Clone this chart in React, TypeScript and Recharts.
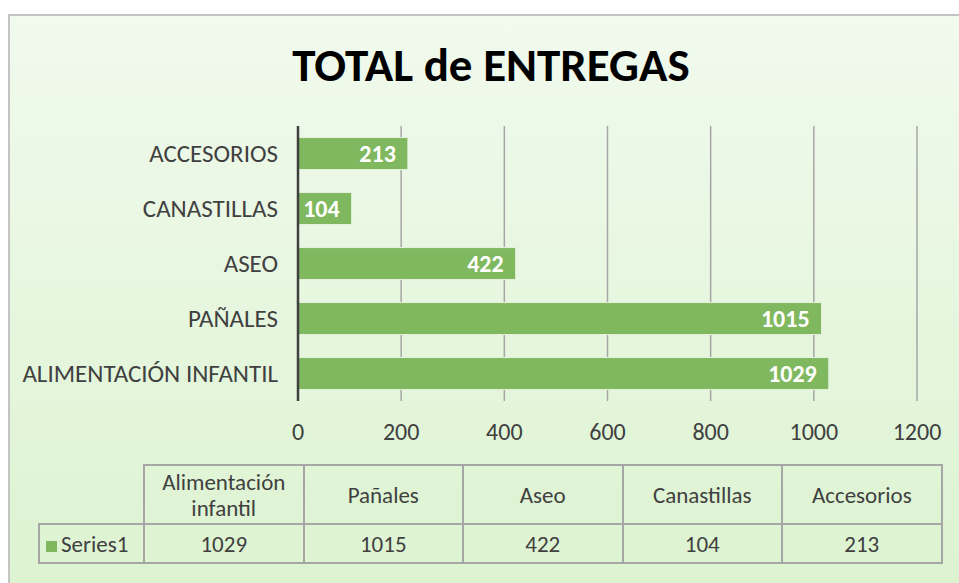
import { BarChart, Bar, XAxis, YAxis, CartesianGrid, LabelList } from 'recharts';

const categories = ['ALIMENTACIÓN INFANTIL', 'PAÑALES', 'ASEO', 'CANASTILLAS', 'ACCESORIOS'];
const tableLabels = ['Alimentación infantil', 'Pañales', 'Aseo', 'Canastillas', 'Accesorios'];
const values = [1029, 1015, 422, 104, 213];
const xTicks = [0, 200, 400, 600, 800, 1000, 1200];

const FONT = 'Carlito, Lato, "Open Sans", sans-serif';
const BAR = '#7fb85e';
const GRID = '#a6a6a6';
const TEXT = '#404040';

// top of chart shows the last category, like Excel
const data = categories.map((c, i) => ({ name: c, value: values[i] })).reverse();

const cell: React.CSSProperties = {
  border: `2px solid ${GRID}`,
  textAlign: 'center',
  color: TEXT,
  fontSize: 23,
  lineHeight: '26px',
  padding: 0,
  width: 157.5,
};

export default function App() {
  return (
    <div
      style={{
        position: 'absolute',
        left: 8,
        top: 14,
        width: 960,
        height: 580,
        border: '2px solid #c4c4c4',
        background: 'linear-gradient(180deg, #f1faee 0%, #dcf3d0 100%)',
        fontFamily: FONT,
        boxSizing: 'border-box',
        overflow: 'hidden',
      }}
    >
      <div
        style={{
          position: 'absolute',
          left: 0,
          width: 962,
          top: 22,
          textAlign: 'center',
          fontSize: 47,
          fontWeight: 700,
          color: '#000',
          lineHeight: '54px',
        }}
      >
        TOTAL de ENTREGAS
      </div>
      <div style={{ position: 'absolute', left: -2, top: -2 }}>
        <BarChart
          width={950}
          height={440}
          data={data}
          layout="vertical"
          margin={{ top: 112, right: 41, bottom: 13, left: 20 }}
          barCategoryGap="21%"
        >
          <CartesianGrid horizontal={false} vertical stroke={GRID} strokeWidth={1.5} />
          <XAxis
            type="number"
            domain={[0, 1200]}
            ticks={xTicks}
            axisLine={false}
            tickLine={false}
            tickSize={0}
            tickMargin={22}
            height={40}
            tick={{ fill: TEXT, fontSize: 24, fontFamily: FONT }}
          />
          <YAxis
            type="category"
            dataKey="name"
            width={270}
            axisLine={{ stroke: '#404040', strokeWidth: 2.5 }}
            tickLine={false}
            tickSize={0}
            tickMargin={20}
            tick={{ fill: TEXT, fontSize: 25, fontFamily: FONT }}
          />
          <Bar dataKey="value" fill={BAR} stroke="#e6f2dc" strokeWidth={1} isAnimationActive={false}>
            <LabelList
              dataKey="value"
              position="insideRight"
              offset={12}
              fill="#ffffff"
              style={{ fontSize: 24, fontWeight: 700, fontFamily: FONT }}
            />
          </Bar>
        </BarChart>
      </div>
      <table
        style={{
          position: 'absolute',
          left: 28,
          top: 448,
          borderCollapse: 'collapse',
          fontFamily: FONT,
        }}
      >
        <tbody>
          <tr style={{ height: 59 }}>
            <td style={{ width: 97, padding: 0 }} />
            {tableLabels.map((t) => (
              <td key={t} style={cell}>
                {t}
              </td>
            ))}
          </tr>
          <tr style={{ height: 39 }}>
            <td style={{ ...cell, width: 97, textAlign: 'left', paddingLeft: 6, whiteSpace: 'nowrap' }}>
              <span
                style={{
                  display: 'inline-block',
                  width: 11,
                  height: 11,
                  background: BAR,
                  marginRight: 4,
                }}
              />
              Series1
            </td>
            {values.map((v, i) => (
              <td key={i} style={cell}>
                {v}
              </td>
            ))}
          </tr>
        </tbody>
      </table>
    </div>
  );
}
